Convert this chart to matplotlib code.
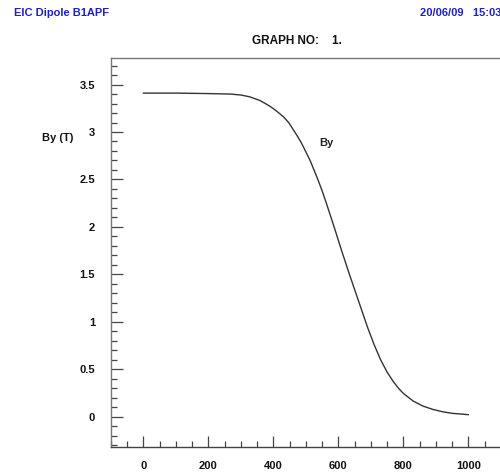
import matplotlib
matplotlib.use("Agg")
import matplotlib.pyplot as plt
from matplotlib.ticker import MultipleLocator

plt.rcParams['font.family'] = ['Liberation Sans', 'DejaVu Sans']
plt.rcParams['font.weight'] = 'bold'

# field profile
z_mm = [0, 100, 200, 267, 300, 328, 360, 390, 410, 431, 447, 462, 475, 487,
        500, 513, 525, 538, 550, 562, 585, 610, 635, 657, 675, 690, 710, 730,
        750, 770, 785, 800, 830, 860, 890, 920, 950, 1000]
by_t = [3.41, 3.41, 3.405, 3.40, 3.39, 3.37, 3.33, 3.27, 3.22, 3.16, 3.10,
        3.02, 2.95, 2.88, 2.79, 2.70, 2.60, 2.49, 2.38, 2.26, 2.02, 1.75, 1.49,
        1.27, 1.09, 0.94, 0.76, 0.60, 0.47, 0.365, 0.30, 0.245, 0.165, 0.112,
        0.077, 0.052, 0.035, 0.021]

header_left = "EIC Dipole B1APF"
header_right = "20/06/09   15:03"
graph_title = "GRAPH NO:    1."
y_label = "By (T)"
curve_label = "By"

W, H = 500, 473
fig = plt.figure(figsize=(5, 4.73), dpi=100)
ax = fig.add_axes([111 / W, 1 - 447 / H, 406 / W, (447 - 58) / H])

ax.plot(z_mm, by_t, color='#333333', lw=1.0)
ax.set_xlim(-100, 1150)
ax.set_ylim(-0.32, 3.78)

ax.xaxis.set_major_locator(MultipleLocator(200))
ax.xaxis.set_minor_locator(MultipleLocator(50))
ax.yaxis.set_major_locator(MultipleLocator(0.5))
ax.yaxis.set_minor_locator(MultipleLocator(0.1))
ax.yaxis.set_major_formatter(plt.FuncFormatter(lambda v, p: f"{v:g}"))

ax.tick_params(axis='both', which='both', direction='in', colors='#444444',
               labelcolor='#111111', labelsize=8, width=0.9)
ax.tick_params(axis='y', which='major', length=8.5, pad=11.5)
ax.tick_params(axis='y', which='minor', length=4.3)
ax.tick_params(axis='x', which='major', length=8, pad=10)
ax.tick_params(axis='x', which='minor', length=4)
ax.tick_params(top=False, right=False)

for s in ax.spines.values():
    s.set_color('#777777')
    s.set_linewidth(1.0)
ax.spines['bottom'].set_color('#444444')

ax.text(562, 2.88, curve_label, ha='center', va='center', fontsize=8,
        fontweight='bold', color='#222222')

fig.text(58 / W, 1 - 138 / H, y_label, ha='center', va='center',
         fontsize=8, fontweight='bold', color='#111111')
fig.text(297 / W, 1 - 41 / H, graph_title, ha='center', va='center',
         fontsize=8.5, fontweight='bold', color='#111111')
fig.text(14 / W, 1 - 13 / H, header_left, ha='left', va='center',
         fontsize=8, fontweight='bold', color='#1f1fcc')
fig.text(420 / W, 1 - 13 / H, header_right, ha='left', va='center',
         fontsize=8, fontweight='bold', color='#1f1fcc')

fig.savefig("out.png", dpi=100)
